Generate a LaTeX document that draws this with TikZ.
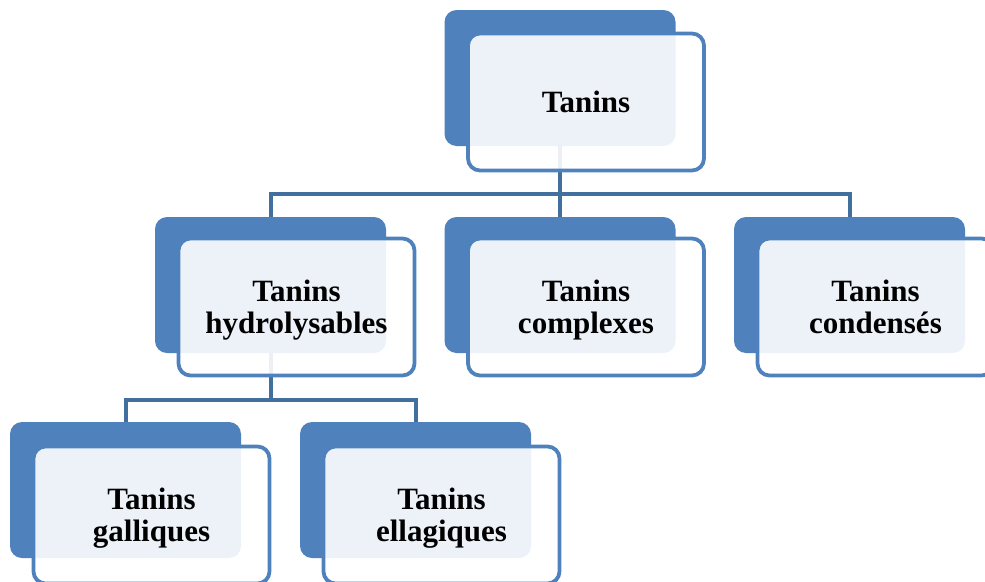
\documentclass[tikz,border=0pt]{standalone}
\usepackage{fontspec}
\setmainfont{Liberation Serif}
\definecolor{blueA}{HTML}{4F81BD}
\definecolor{lineC}{HTML}{41709F}
\begin{document}
\begin{tikzpicture}[x=1pt,y=-1pt,
  backbox/.style={rectangle, rounded corners=12pt, fill=blueA, minimum width=231pt, minimum height=136pt, inner sep=0pt},
  frontbox/.style={rectangle, rounded corners=12pt, draw=blueA, line width=3.8pt, fill=white, fill opacity=0.9, text opacity=1, draw opacity=1, minimum width=236pt, minimum height=137pt, inner sep=0pt, text depth=0pt, align=center, font=\bfseries\fontsize{31}{32}\selectfont},
  conn/.style={draw=lineC, line width=4pt}]
\useasboundingbox (0,0) rectangle (985,581);
\clip (0,0) rectangle (985,581);
% back boxes
\node[backbox] (tb) at (560,78) {};
\node[backbox] (hb) at (270.5,285) {};
\node[backbox] (cb) at (560,285) {};
\node[backbox] (db) at (849.5,285) {};
\node[backbox] (gb) at (125.5,490) {};
\node[backbox] (eb) at (415.5,490) {};
% connectors
\coordinate (bus1) at (560,194);
\coordinate (bus2) at (270.5,400);
\draw[conn] (tb.south) -- (cb.north);
\draw[conn] (hb.north) |- (bus1) -| (db.north);
\draw[conn] (hb.south) -- (bus2);
\draw[conn] (gb.north) |- (bus2) -| (eb.north);
% front boxes
\node[frontbox] (tf) at ([shift={(26,24)}]tb.center) {Tanins};
\node[frontbox] (hf) at ([shift={(26,22)}]hb.center) {Tanins\\hydrolysables};
\node[frontbox] (cf) at ([shift={(26,22)}]cb.center) {Tanins\\complexes};
\node[frontbox] (df) at ([shift={(26,22)}]db.center) {Tanins\\condensés};
\node[frontbox] (gf) at ([shift={(26,25)}]gb.center) {Tanins\\galliques};
\node[frontbox] (ef) at ([shift={(26,25)}]eb.center) {Tanins\\ellagiques};
\end{tikzpicture}
\end{document}
